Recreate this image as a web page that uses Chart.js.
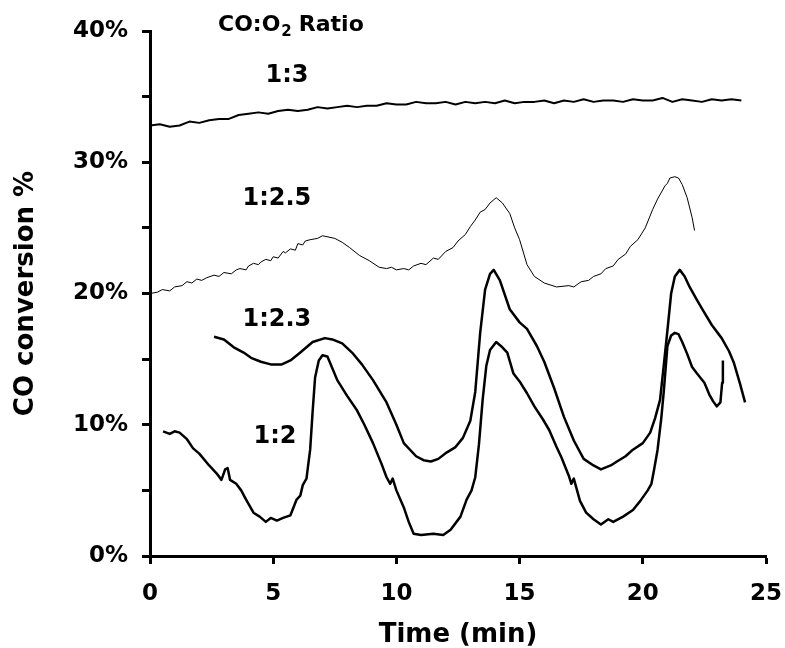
<!DOCTYPE html>
<html>
<head>
<meta charset="utf-8">
<script src="https://cdn.jsdelivr.net/npm/chart.js@4.4.1/dist/chart.umd.min.js"></script>
<style>
  html, body { margin: 0; padding: 0; background: #fff; }
  #wrap { width: 785px; height: 648px; }
</style>
</head>
<body>
<div id="wrap"><canvas id="convChart" width="785" height="648"></canvas></div>
<script>
  // Conversion du CO en fonction du temps, pour chaque rapport CO:O2

  // 1:3
  const t13 = [0,0.4,0.8,1.2,1.6,2.0,2.4,2.8,3.2,3.6,4.0,4.4,4.8,5.2,5.6,6.0,6.4,6.8,7.2,7.6,
    8.0,8.4,8.8,9.2,9.6,10.0,10.4,10.8,11.2,11.6,12.0,12.4,12.8,13.2,13.6,14.0,14.4,14.8,15.2,15.6,
    16.0,16.4,16.8,17.2,17.6,18.0,18.4,18.8,19.2,19.6,20.0,20.4,20.8,21.2,21.6,22.0,22.4,22.8,23.2,23.6,24.0];
  const co13 = [32.8,32.9,32.7,32.8,33.1,33.0,33.2,33.3,33.3,33.6,33.7,33.8,33.7,33.9,34.0,33.9,34.0,34.2,34.1,34.2,
    34.3,34.2,34.3,34.3,34.5,34.4,34.4,34.6,34.5,34.5,34.6,34.4,34.6,34.5,34.6,34.5,34.7,34.5,34.6,34.6,
    34.7,34.5,34.7,34.6,34.8,34.6,34.7,34.7,34.6,34.8,34.7,34.7,34.9,34.6,34.8,34.7,34.6,34.8,34.7,34.8,34.7];

  // 1:2.5
  const t125 = [0,0.3,0.5,0.8,1.0,1.3,1.5,1.7,1.9,2.1,2.3,2.6,2.8,3.0,3.3,3.5,3.65,3.9,4.0,4.2,
    4.4,4.5,4.7,4.9,5.0,5.2,5.4,5.5,5.7,5.9,6.0,6.2,6.3,6.5,6.8,7.0,7.5,7.8,8.1,8.5,
    8.9,9.3,9.6,9.8,10.0,10.3,10.5,10.7,11.0,11.2,11.5,11.7,12.0,12.3,12.5,12.8,13.0,13.2,13.4,13.6,
    13.8,14.05,14.3,14.6,14.8,15.0,15.3,15.6,16.0,16.5,17.0,17.2,17.5,17.8,18.0,18.3,18.5,18.8,19.0,19.3,
    19.5,19.8,20.1,20.4,20.6,20.9,21.0,21.1,21.3,21.45,21.6,21.8,22.0,22.1];
  const co125 = [20.0,20.1,20.3,20.2,20.5,20.6,20.9,20.8,21.1,21.0,21.2,21.4,21.3,21.6,21.5,21.8,21.9,21.8,22.1,22.3,
    22.2,22.4,22.6,22.5,22.8,22.7,23.2,23.1,23.4,23.3,23.8,23.7,24.0,24.1,24.2,24.4,24.2,23.9,23.5,22.9,
    22.5,22.0,21.9,22.0,21.8,21.9,21.8,22.1,22.3,22.2,22.7,22.6,23.2,23.5,24.0,24.5,25.1,25.6,26.2,26.4,
    26.9,27.3,26.9,26.1,25.0,24.1,22.2,21.3,20.8,20.5,20.6,20.5,20.9,21.0,21.3,21.5,21.9,22.1,22.6,23.0,
    23.6,24.1,25.0,26.4,27.2,28.2,28.4,28.8,28.9,28.8,28.3,27.3,25.8,24.8];

  // 1:2.3
  const t123 = [2.6,3.0,3.4,3.8,4.1,4.5,4.9,5.35,5.7,6.1,6.6,7.1,7.4,7.8,8.2,8.6,9.05,9.6,10.0,10.3,10.8,11.1,11.4,
    11.7,12.05,12.4,12.7,13.0,13.2,13.4,13.6,13.8,13.95,14.2,14.6,15.0,15.3,15.7,16.0,16.4,16.8,17.2,17.6,18.0,
    18.3,18.7,18.95,19.3,19.6,20.0,20.3,20.5,20.7,20.85,21.0,21.15,21.3,21.5,21.7,21.9,22.2,22.45,22.8,23.2,23.5,23.7,23.95,24.15];
  const co123 = [16.7,16.5,15.9,15.5,15.1,14.8,14.6,14.6,14.9,15.5,16.3,16.6,16.5,16.2,15.5,14.6,13.4,11.7,10.0,8.6,7.6,7.3,7.2,
    7.4,7.9,8.3,9.0,10.3,12.5,17.0,20.3,21.5,21.8,21.0,18.8,17.8,17.3,16.0,14.8,12.8,10.6,8.8,7.4,6.9,
    6.6,6.9,7.2,7.6,8.1,8.6,9.4,10.5,11.9,14.5,17.2,20.0,21.3,21.8,21.3,20.5,19.5,18.7,17.6,16.6,15.6,14.7,13.1,11.7];

  // 1:2
  const t12 = [0.53,0.8,1.0,1.2,1.5,1.75,2.0,2.4,2.7,2.9,3.05,3.15,3.25,3.5,3.7,3.9,4.2,4.45,4.7,4.9,5.15,5.4,5.7,
    5.95,6.1,6.2,6.35,6.5,6.6,6.7,6.85,7.0,7.2,7.4,7.6,8.0,8.4,8.7,9.05,9.4,9.6,9.75,9.85,10.0,10.3,10.5,10.7,
    11.0,11.5,11.9,12.2,12.6,12.85,13.05,13.2,13.35,13.5,13.65,13.8,14.05,14.3,14.5,14.75,15.0,15.3,15.6,15.95,
    16.2,16.5,16.7,16.85,17.0,17.1,17.2,17.45,17.7,18.0,18.3,18.6,18.8,19.2,19.6,19.9,20.2,20.35,20.45,20.6,
    20.75,20.85,21.0,21.15,21.3,21.45,21.6,21.8,22.0,22.2,22.5,22.7,22.85,23.0,23.15,23.22,23.25];
  const co12 = [9.5,9.3,9.5,9.4,8.9,8.2,7.8,6.9,6.3,5.8,6.6,6.7,5.8,5.5,5.0,4.3,3.3,3.0,2.6,2.9,2.7,2.9,3.1,
    4.3,4.6,5.4,5.9,8.1,11.0,13.6,14.9,15.3,15.2,14.3,13.4,12.2,11.1,10.0,8.6,7.0,6.0,5.5,5.9,5.0,3.7,2.6,1.7,
    1.6,1.7,1.6,2.0,3.0,4.3,5.0,6.0,8.5,11.9,14.5,15.7,16.3,15.9,15.5,13.9,13.3,12.4,11.4,10.4,
    9.6,8.3,7.5,6.8,6.1,5.5,5.9,4.2,3.3,2.8,2.4,2.8,2.6,3.0,3.5,4.2,5.0,5.5,6.5,8.1,
    10.5,12.5,16.0,16.8,17.0,16.9,16.3,15.4,14.4,13.9,13.2,12.3,11.8,11.4,11.7,13.2,14.9];

  // Étiquettes posées sur le graphique : [texte, temps, %]
  const seriesLabels = [
    ["1:3", 5.56, 36.6],
    ["1:2.5", 5.15, 27.2],
    ["1:2.3", 5.15, 18.0],
    ["1:2", 5.07, 9.1]
  ];
  const xTicks = [0, 5, 10, 15, 20, 25];
  const yMax = 40;

  const FONT = "'DejaVu Sans', Verdana, sans-serif";

  function toPoints(ts, vs) {
    return ts.map((t, i) => ({ x: t, y: vs[i] }));
  }

  function serie(label, ts, vs, width) {
    return {
      label: label,
      data: toPoints(ts, vs),
      borderColor: "#000",
      borderWidth: width,
      pointRadius: 0,
      tension: 0,
      borderJoinStyle: "round",
      fill: false
    };
  }

  /* TEXTES DANS LA ZONE DU GRAPHIQUE */
  const textPlugin = {
    id: "ratioText",
    afterDraw(chart) {
      const { ctx, scales } = chart;
      const x = scales.x, y = scales.y;
      ctx.save();
      ctx.fillStyle = "#000";
      ctx.textBaseline = "middle";

      // titre "CO:O2 Ratio" avec l'indice 2
      let px = x.getPixelForValue(2.76);
      const py = y.getPixelForValue(40.4);
      ctx.textAlign = "left";
      ctx.font = "bold 22px " + FONT;
      ctx.fillText("CO:O", px, py);
      px += ctx.measureText("CO:O").width + 1;
      ctx.font = "bold 15px " + FONT;
      ctx.fillText("2", px, py + 6);
      px += ctx.measureText("2").width + 7;
      ctx.font = "bold 22px " + FONT;
      ctx.fillText("Ratio", px, py);

      ctx.textAlign = "center";
      ctx.font = "bold 24px " + FONT;
      seriesLabels.forEach(([txt, t, v]) => {
        ctx.fillText(txt, x.getPixelForValue(t), y.getPixelForValue(v));
      });
      ctx.restore();
    }
  };

  const ctx = document.getElementById("convChart").getContext("2d");
  const convChart = new Chart(ctx, {
    type: "line",
    data: {
      datasets: [
        serie("1:3", t13, co13, 2),
        serie("1:2.5", t125, co125, 1),
        serie("1:2.3", t123, co123, 2.5),
        serie("1:2", t12, co12, 2.5)
      ]
    },
    options: {
      responsive: false,
      animation: false,
      layout: { padding: { top: 31, right: 19, bottom: 0, left: 0 } },
      plugins: {
        legend: { display: false },
        tooltip: { enabled: false }
      },
      scales: {
        x: {
          type: "linear",
          min: 0,
          max: 25,
          afterFit: (s) => {
            s.height = 92;
            // la marge à droite est fixée par layout.padding
            s.paddingLeft = 0;
            s.paddingRight = 0;
          },
          afterBuildTicks: (s) => { s.ticks = xTicks.map((v) => ({ value: v })); },
          border: { display: true, color: "#000", width: 3 },
          grid: { drawOnChartArea: false, drawTicks: true, tickLength: 8, tickWidth: 3, tickColor: "#000" },
          ticks: {
            color: "#000",
            padding: 16,
            maxRotation: 0,
            font: { family: FONT, size: 23, weight: "bold" }
          },
          title: {
            display: true,
            text: "Time (min)",
            color: "#000",
            padding: { top: 0, bottom: -3 },
            font: { family: FONT, size: 26, weight: "bold" }
          }
        },
        y: {
          min: 0,
          max: yMax,
          afterFit: (s) => { s.width = 150; },
          border: { display: true, color: "#000", width: 3 },
          grid: { drawOnChartArea: false, drawTicks: true, tickLength: 8, tickWidth: 3, tickColor: "#000" },
          ticks: {
            stepSize: 5,
            color: "#000",
            padding: 14,
            font: { family: FONT, size: 23, weight: "bold" },
            callback: (v) => (v % 10 === 0 ? v + "%" : "")
          },
          title: {
            display: true,
            text: "CO conversion %",
            color: "#000",
            padding: { top: 11, bottom: 0 },
            font: { family: FONT, size: 26, weight: "bold" }
          }
        }
      }
    },
    plugins: [textPlugin]
  });
</script>
</body>
</html>
